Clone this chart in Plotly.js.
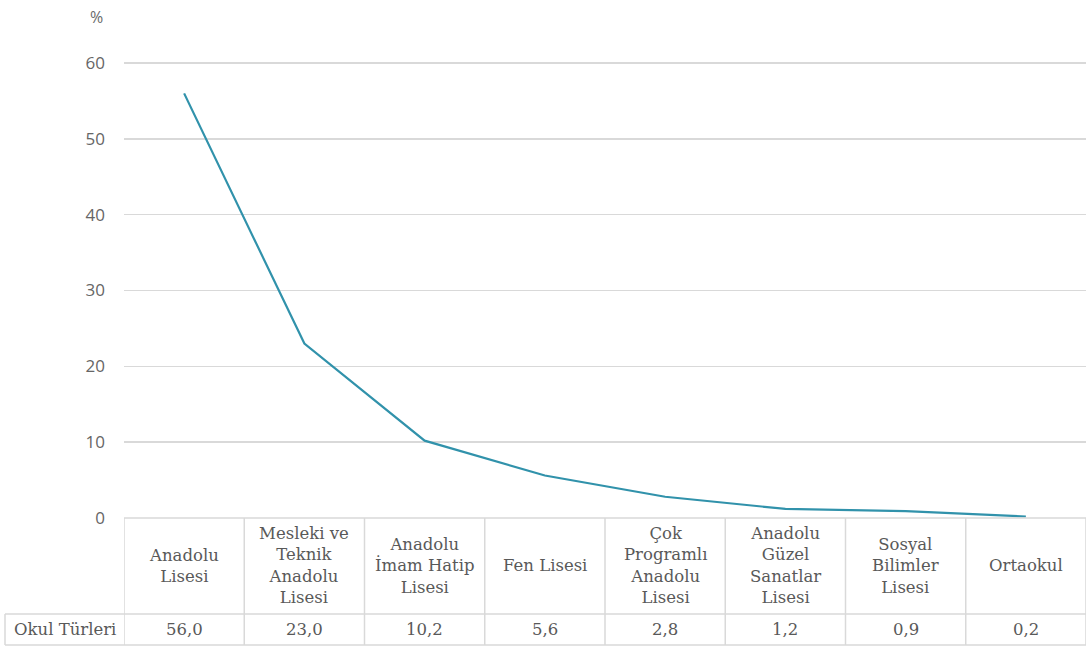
<!DOCTYPE html>
<html>
<head>
<meta charset="utf-8">
<script src="https://cdn.plot.ly/plotly-3.0.1.min.js"></script>
<style>
  html, body { margin: 0; padding: 0; background: #fff; }
  #chart { width: 1086px; height: 646px; }
</style>
</head>
<body>
<div id="chart"></div>
<script>
// Okul türlerine göre dağılım (%)
const categories = [
  "Anadolu<br>Lisesi",
  "Mesleki ve<br>Teknik<br>Anadolu<br>Lisesi",
  "Anadolu<br>İmam Hatip<br>Lisesi",
  "Fen Lisesi",
  "Çok<br>Programlı<br>Anadolu<br>Lisesi",
  "Anadolu<br>Güzel<br>Sanatlar<br>Lisesi",
  "Sosyal<br>Bilimler<br>Lisesi",
  "Ortaokul"
];
const values = [56.0, 23.0, 10.2, 5.6, 2.8, 1.2, 0.9, 0.2];
const seriesName = "Okul Türleri";
const yTicks = [0, 10, 20, 30, 40, 50, 60];

const fmt = v => v.toFixed(1).replace(".", ",");

const tableFont = { family: "DejaVu Serif", size: 16.5, color: "#595959" };
const gridColor = "#d9d9d9";

const idx = categories.map((_, i) => i);
const yMax = yTicks[yTicks.length - 1];

// data table below the plot, drawn in paper / x coordinates
const rowTop = 0, rowMid = -0.2096, rowBot = -0.2773;
const leftEdge = -0.1237;
const shapes = [];
// vertical separators between categories
for (let i = 0; i <= categories.length; i++) {
  shapes.push({
    type: "line", xref: "x", yref: "paper",
    x0: i - 0.5, x1: i - 0.5,
    y0: rowTop, y1: rowBot,
    line: { color: gridColor, width: 1.5 }
  });
}
// horizontal row lines (top one doubles as the zero line)
[rowTop, rowMid, rowBot].forEach(yv => {
  shapes.push({
    type: "line", xref: "paper", yref: "paper",
    x0: yv === rowTop ? 0 : leftEdge, x1: 1, y0: yv, y1: yv,
    line: { color: gridColor, width: 1.5 }
  });
});
shapes.push({ type: "line", xref: "paper", yref: "paper", x0: leftEdge, x1: leftEdge, y0: rowMid, y1: rowBot, line: { color: gridColor, width: 1.5 } });

const annotations = [];
categories.forEach((c, i) => {
  annotations.push({
    x: i, y: (rowTop + rowMid) / 2, xref: "x", yref: "paper",
    text: c, showarrow: false, align: "center",
    xanchor: "center", yanchor: "middle", font: tableFont
  });
  annotations.push({
    x: i, y: (rowMid + rowBot) / 2, xref: "x", yref: "paper",
    text: fmt(values[i]), showarrow: false,
    xanchor: "center", yanchor: "middle", font: tableFont
  });
});
annotations.push({
  x: (leftEdge + 0) / 2, y: (rowMid + rowBot) / 2, xref: "paper", yref: "paper",
  text: seriesName, showarrow: false,
  xanchor: "center", yanchor: "middle", font: tableFont
});
annotations.push({
  x: -0.0195, y: 1.093, xref: "paper", yref: "paper",
  text: "%", showarrow: false, xanchor: "right", yanchor: "middle",
  font: { family: "Open Sans", size: 16, color: "#6a6a6a" }
});

const trace = {
  x: idx, y: values, type: "scatter", mode: "lines",
  name: seriesName,
  line: { color: "#3192ab", width: 2.2 },
  hoverinfo: "skip"
};

const layout = {
  width: 1086, height: 646,
  margin: { l: 124, r: 0, t: 60, b: 128 },
  paper_bgcolor: "#ffffff", plot_bgcolor: "#ffffff",
  showlegend: false,
  xaxis: {
    range: [-0.5, categories.length - 0.5],
    showticklabels: false, showgrid: false, zeroline: false,
    showline: false, ticks: "", fixedrange: true
  },
  yaxis: {
    range: [0, yMax + 0.4], tickvals: yTicks, ticktext: yTicks.map(String),
    showgrid: true, gridcolor: gridColor, gridwidth: 1.5,
    zeroline: false, showline: false, ticks: "",
    ticklabelstandoff: 18,
    tickfont: { family: "Open Sans", size: 17, color: "#666666" },
    fixedrange: true
  },
  shapes, annotations
};

Plotly.newPlot("chart", [trace], layout, { displayModeBar: false, staticPlot: true });
</script>
</body>
</html>
